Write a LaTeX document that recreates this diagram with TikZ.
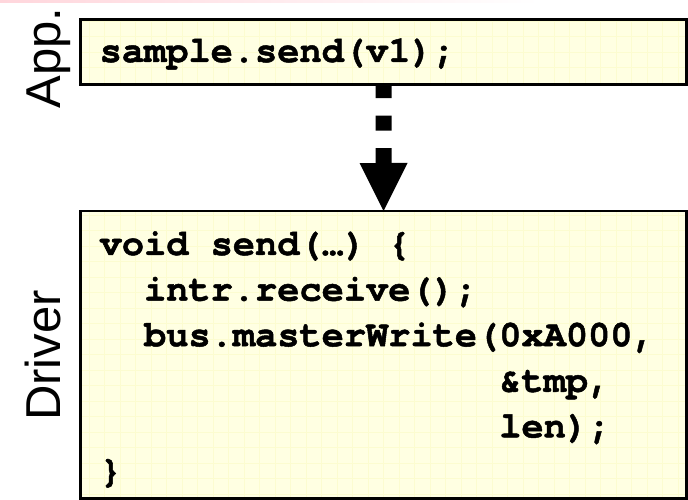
\documentclass[tikz,border=0pt]{standalone}
\usepackage{fontspec}
\setmainfont{Liberation Sans}
\newfontfamily\codefont{texgyrecursor}[Extension=.otf,
  UprightFont=*-regular, BoldFont=*-bold, BoldFeatures={FakeBold=1.3}]
\usetikzlibrary{arrows.meta}

\definecolor{notefill}{RGB}{255,255,226}
\definecolor{notegrid}{RGB}{252,252,208}
\definecolor{bandpink}{RGB}{255,214,220}

\tikzset{
  notebox/.style={draw=black, line width=2.8pt, fill=notefill,
    inner sep=0pt, outer sep=0pt,
    path picture={\draw[notegrid, line width=1pt]
      (path picture bounding box.south west) grid[step=15.5pt]
      (path picture bounding box.north east);}},
  codeline/.style={anchor=base west, inner sep=0pt,
    font=\codefont\bfseries\fontsize{37}{45}\selectfont},
  layerlabel/.style={anchor=base, rotate=90, inner sep=0pt,
    font=\fontsize{49}{55}\selectfont},
  callarrow/.style={line width=16pt, dash pattern=on 15pt off 17.5pt,
    -{Triangle[width=48pt, length=48pt, line width=0pt]}}
}

\begin{document}
\begin{tikzpicture}[x=1pt, y=1pt]
  \useasboundingbox (0,0) rectangle (688,500);

  % faint band along the top edge
  \shade[left color=bandpink, right color=white] (0,497) rectangle (540,500);

  % application layer
  \node[notebox, minimum width=606.4pt, minimum height=65.2pt]
    (appbox) at (383.5,447.9) {};
  \node[codeline] (appcode) at (99.5,438) {sample.send(v1);};
  \node[layerlabel] (applabel) at (60,442) {App.};

  % driver layer
  \node[notebox, minimum width=606.2pt, minimum height=287.7pt]
    (drvbox) at (383.6,145.15) {};
  \node[codeline] (l1) at (99.5,245) {void send(…) \{};
  \node[codeline] (l2) at (99.5,199.4) {\phantom{xx}intr.receive();};
  \node[codeline] (l3) at (99.5,153.8) {\phantom{xx}bus.masterWrite(0xA000,};
  \node[codeline] (l4) at (99.5,108.2) {\phantom{xxxxxxxxxxxxxxxxxx}\&tmp,};
  \node[codeline] (l5) at (99.5,62.6) {\phantom{xxxxxxxxxxxxxxxxxx}len);};
  \node[codeline] (l6) at (99.5,18) {\}};
  \node[layerlabel] (drvlabel) at (60,144.5) {Driver};

  % call from the application into the driver
  \coordinate (callstart) at ([yshift=1.5pt]appbox.south);
  \draw[callarrow] (callstart) -- (drvbox.north);
\end{tikzpicture}
\end{document}
